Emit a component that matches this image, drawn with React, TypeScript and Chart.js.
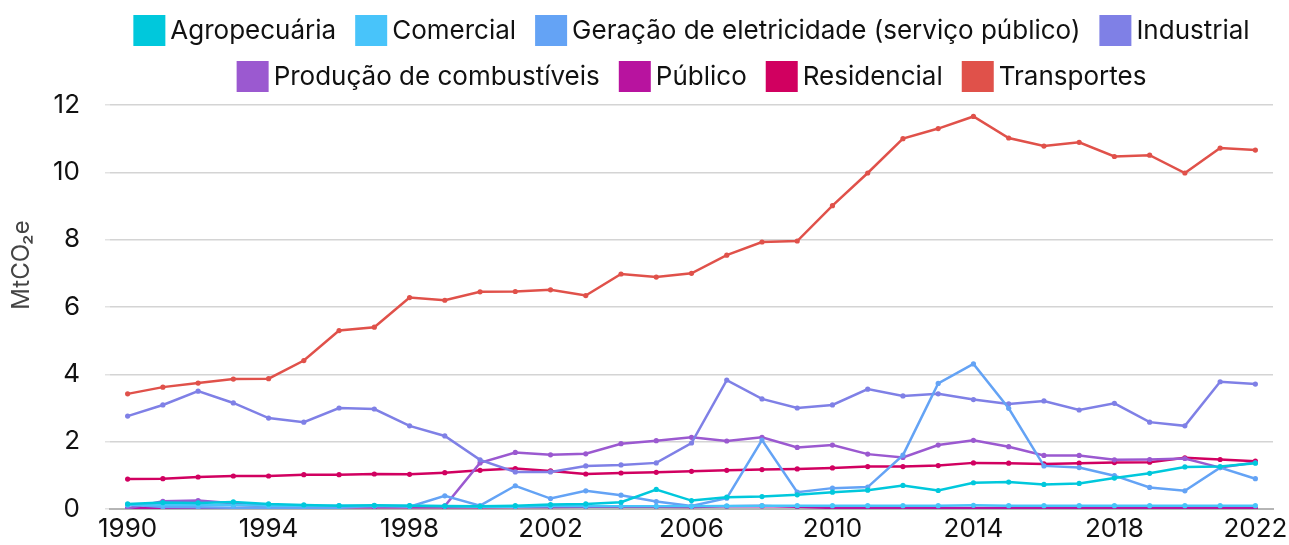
import { useEffect, useRef } from "react";
import { Chart, registerables } from "chart.js";

Chart.register(...registerables);

const years = [
  "1990", "1991", "1992", "1993", "1994", "1995", "1996", "1997", "1998", "1999",
  "2000", "2001", "2002", "2003", "2004", "2005", "2006", "2007", "2008", "2009",
  "2010", "2011", "2012", "2013", "2014", "2015", "2016", "2017", "2018", "2019",
  "2020", "2021", "2022",
];

const agropecuaria = [
  0.15, 0.19, 0.18, 0.21, 0.15, 0.12, 0.1, 0.11, 0.1, 0.09,
  0.08, 0.1, 0.13, 0.15, 0.2, 0.58, 0.25, 0.35, 0.37, 0.42,
  0.5, 0.56, 0.7, 0.55, 0.78, 0.8, 0.73, 0.76, 0.92, 1.06,
  1.25, 1.26, 1.36,
];
const comercial = [
  0.12, 0.12, 0.12, 0.12, 0.1, 0.1, 0.1, 0.1, 0.1, 0.08,
  0.07, 0.07, 0.08, 0.08, 0.08, 0.08, 0.08, 0.09, 0.1, 0.1,
  0.1, 0.1, 0.1, 0.1, 0.11, 0.1, 0.1, 0.1, 0.1, 0.1,
  0.1, 0.1, 0.1,
];
const geracao = [
  0.13, 0.06, 0.05, 0.04, 0.02, 0.02, 0.04, 0.1, 0.07, 0.39,
  0.1, 0.69, 0.31, 0.54, 0.41, 0.22, 0.09, 0.32, 2.05, 0.5,
  0.62, 0.65, 1.6, 3.73, 4.31, 2.99, 1.28, 1.23, 0.99, 0.64,
  0.54, 1.23, 0.9,
];
const industrial = [
  2.76, 3.09, 3.5, 3.15, 2.7, 2.58, 3.0, 2.97, 2.47, 2.17,
  1.46, 1.1, 1.1, 1.28, 1.31, 1.37, 1.96, 3.83, 3.27, 3.0,
  3.09, 3.56, 3.36, 3.42, 3.25, 3.12, 3.21, 2.94, 3.14, 2.58,
  2.47, 3.78, 3.71,
];
const producao = [
  0.02, 0.23, 0.25, 0.17, 0.1, 0.07, 0.07, 0.07, 0.08, 0.09,
  1.37, 1.68, 1.61, 1.64, 1.94, 2.03, 2.13, 2.02, 2.13, 1.83,
  1.9, 1.63, 1.53, 1.9, 2.04, 1.85, 1.59, 1.59, 1.46, 1.47,
  1.5, 1.23, 1.38,
];
const publico = [
  0.02, 0.02, 0.02, 0.02, 0.06, 0.05, 0.05, 0.05, 0.05, 0.05,
  0.05, 0.06, 0.06, 0.07, 0.07, 0.07, 0.06, 0.08, 0.09, 0.07,
  0.03, 0.03, 0.03, 0.03, 0.03, 0.03, 0.03, 0.03, 0.03, 0.03,
  0.03, 0.03, 0.03,
];
const residencial = [
  0.89, 0.9, 0.95, 0.98, 0.98, 1.02, 1.02, 1.04, 1.03, 1.08,
  1.15, 1.2, 1.13, 1.04, 1.07, 1.09, 1.12, 1.15, 1.17, 1.19,
  1.22, 1.26, 1.26, 1.29, 1.37, 1.36, 1.34, 1.36, 1.38, 1.39,
  1.52, 1.47, 1.42,
];
const transportes = [
  3.42, 3.62, 3.74, 3.86, 3.87, 4.41, 5.3, 5.4, 6.28, 6.2,
  6.45, 6.46, 6.51, 6.34, 6.98, 6.89, 7.0, 7.54, 7.93, 7.96,
  9.01, 9.98, 11.0, 11.3, 11.66, 11.02, 10.78, 10.89, 10.47, 10.51,
  9.98, 10.72, 10.66,
];

const seriesNames = [
  "Agropecuária",
  "Comercial",
  "Geração de eletricidade (serviço público)",
  "Industrial",
  "Produção de combustíveis",
  "Público",
  "Residencial",
  "Transportes",
];
const seriesValues = [agropecuaria, comercial, geracao, industrial, producao, publico, residencial, transportes];
const seriesColors = ["#00C8DC", "#48C4FA", "#64A3F5", "#7F80E6", "#9B59D0", "#B8139F", "#D10060", "#E0514A"];

const yTicks = [0, 2, 4, 6, 8, 10, 12];
const yTitle = "MtCO₂e";

const FONT = "Inter, 'Noto Sans', sans-serif";

// Legend drawn with Chart.js canvas, centred on the chart area
const legendPlugin = {
  id: "centeredLegend",
  afterDraw(chart: any) {
    const { ctx, chartArea } = chart;
    const boxW = 32;
    const boxH = 31;
    const gapText = 5;
    const gapItem = 19;
    const rowTop = [15, 61];
    ctx.save();
    ctx.font = `26px ${FONT}`;
    ctx.textBaseline = "middle";
    ctx.textAlign = "left";
    const items = chart.data.datasets.map((ds: any) => ({
      label: ds.label as string,
      color: ds.borderColor as string,
      w: boxW + gapText + ctx.measureText(ds.label).width,
    }));
    const maxW = chartArea.right - chartArea.left;
    const rows: any[][] = [[]];
    let cur = 0;
    items.forEach((it: any) => {
      const add = (rows[rows.length - 1].length ? gapItem : 0) + it.w;
      if (rows[rows.length - 1].length && cur + add > maxW) {
        rows.push([it]);
        cur = it.w;
      } else {
        rows[rows.length - 1].push(it);
        cur += add;
      }
    });
    const cx = (chartArea.left + chartArea.right) / 2;
    rows.forEach((row, r) => {
      const total = row.reduce((s: number, it: any) => s + it.w, 0) + gapItem * (row.length - 1);
      let x = cx - total / 2;
      const top = rowTop[r] ?? rowTop[0] + r * 46;
      row.forEach((it: any) => {
        ctx.fillStyle = it.color;
        ctx.fillRect(x, top, boxW, boxH);
        ctx.fillStyle = "#111";
        ctx.fillText(it.label, x + boxW + gapText, top + boxH / 2 + 1);
        x += it.w + gapItem;
      });
    });

    // y-axis title
    ctx.save();
    ctx.translate(22, 265);
    ctx.rotate(-Math.PI / 2);
    ctx.font = `24px ${FONT}`;
    ctx.fillStyle = "#444";
    ctx.textAlign = "center";
    ctx.textBaseline = "middle";
    ctx.fillText(yTitle, 0, 0);
    ctx.restore();

    ctx.restore();
  },
};

export default function App() {
  const ref = useRef<HTMLCanvasElement | null>(null);

  useEffect(() => {
    document.body.style.margin = "0";
    if (!ref.current) return;
    const chart = new Chart(ref.current, {
      type: "line",
      data: {
        labels: years,
        datasets: seriesNames.map((name, i) => ({
          label: name,
          data: seriesValues[i],
          borderColor: seriesColors[i],
          backgroundColor: seriesColors[i],
          borderWidth: 2.5,
          pointRadius: 2.6,
          pointHoverRadius: 3,
          pointBorderWidth: 0,
          tension: 0,
        })),
      },
      options: {
        animation: false,
        responsive: false,
        maintainAspectRatio: false,
        layout: { padding: { left: 4, right: 16, top: 105, bottom: 3 } },
        plugins: {
          legend: { display: false },
          tooltip: { enabled: false },
        },
        scales: {
          x: {
            type: "category",
            offset: true,
            afterFit: (axis: any) => {
              axis.height = 33;
              axis.paddingLeft = 0;
              axis.paddingRight = 0;
            },
            grid: { display: false, drawTicks: false, tickLength: 0 },
            border: { display: true, color: "#b5b5b5", width: 2 },
            ticks: {
              autoSkip: false,
              maxRotation: 0,
              padding: 5,
              color: "#111",
              font: { family: FONT, size: 26 },
              callback: (_v: any, i: number) => (i % 4 === 0 ? years[i] : ""),
            },
          },
          y: {
            min: yTicks[0],
            max: yTicks[yTicks.length - 1],
            afterBuildTicks: (axis: any) => {
              axis.ticks = yTicks.map((v) => ({ value: v }));
            },
            afterFit: (axis: any) => {
              axis.width = 106;
              axis.paddingTop = 0;
              axis.paddingBottom = 0;
            },
            grid: { color: "#d4d4d4", lineWidth: 1.5, tickLength: 5, tickColor: "#e2e2e2" },
            border: { display: false },
            ticks: {
              padding: 25,
              color: "#111",
              font: { family: FONT, size: 26 },
            },
            title: { display: false },
          },
        },
      },
      plugins: [legendPlugin],
    });
    return () => chart.destroy();
  }, []);

  return (
    <div style={{ width: 1289, height: 545 }}>
      <canvas ref={ref} width={1289} height={545} style={{ display: "block" }} />
    </div>
  );
}
